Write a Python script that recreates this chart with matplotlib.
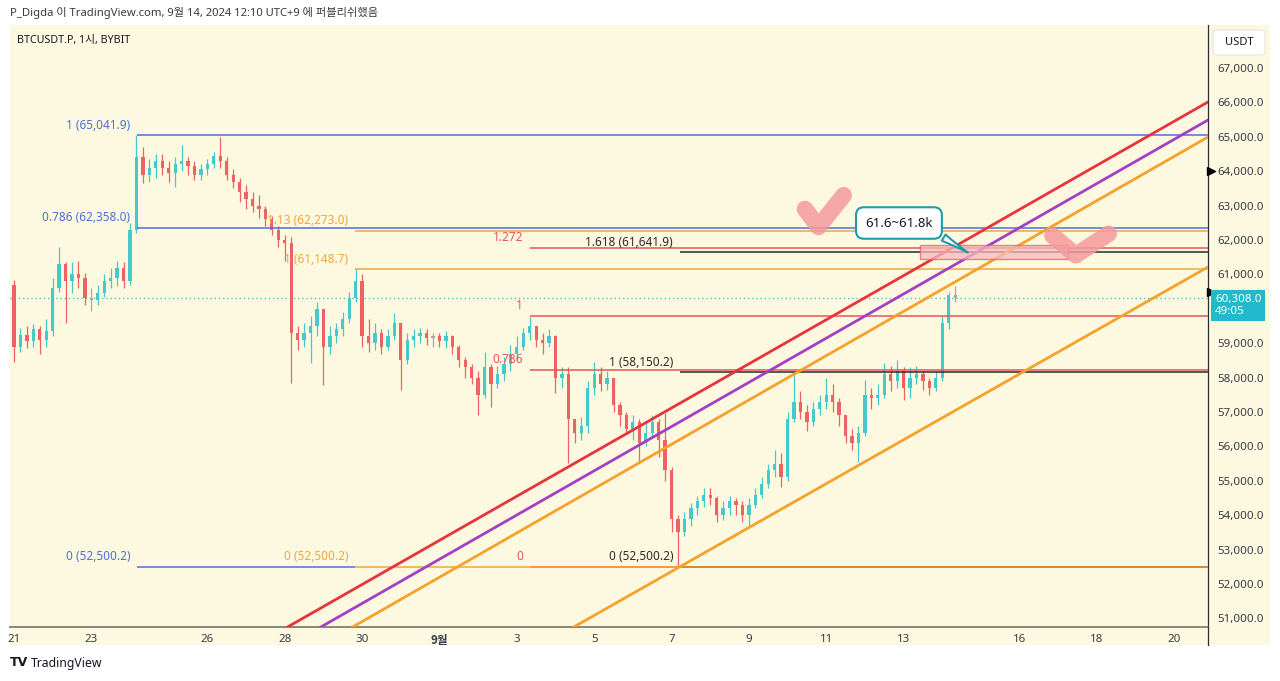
import numpy as np
import matplotlib.pyplot as plt
import matplotlib.transforms as mtransforms
from matplotlib.patches import Rectangle, FancyBboxPatch
from matplotlib.lines import Line2D

plt.rcParams['font.family'] = ['Noto Sans', 'Noto Sans CJK KR', 'DejaVu Sans']

# ---- 데이터 (BTCUSDT.P, 4시간 단위로 읽은 값, 8/21 00:00 부터) ----
candle_step = 4 / 24          # 일 단위
first_open = 60700
closes = [
    58900, 59250, 59050, 59400, 59100, 59350,
    60600, 61300, 60800, 61000, 60900, 60300,
    60250, 60450, 60800, 60900, 61200, 60800,
    62300, 64400, 63900, 64100, 64300, 64100,
    63950, 64200, 64300, 64150, 63900, 64050,
    64200, 64450, 64300, 63900, 63700, 63400,
    63200, 63000, 62900, 62600, 62300, 62000,
    61900, 59300, 59100, 59300, 59500, 60000,
    58900, 59200, 59400, 59700, 60300, 60800,
    59200, 59000, 59300, 58900, 59200, 59600,
    58500, 59100, 59200, 59300, 59150, 59200,
    59050, 59200, 58900, 58500, 58300, 58000,
    57500, 58300, 57800, 58100, 58400, 58700,
    58900, 59300, 59500, 59100, 59000, 59200,
    58000, 58100, 56800, 56400, 56600, 57700,
    58100, 57800, 58000, 57200, 56900, 56500,
    56700, 56100, 56400, 56700, 56200, 55300,
    53900, 53500, 53900, 54200, 54400, 54600,
    54500, 54000, 54200, 54400, 54300, 54000,
    54300, 54600, 54900, 55300, 55500, 55100,
    56800, 57300, 57000, 56700, 57100, 57300,
    57500, 57300, 56900, 56300, 56100, 56400,
    57500, 57400, 57500, 58100, 57900, 58200,
    57700, 58000, 58100, 57900, 57700, 58000,
    59600, 60400, 60308,
]
highs = [
    60850, 59450, 59500, 59550, 59500, 59700,
    60900, 61800, 61350, 61350, 61400, 61050,
    60600, 60700, 61000, 61200, 61400, 61350,
    62500, 65041.9, 64700, 64350, 64500, 64500,
    64300, 64400, 64750, 64400, 64300, 64200,
    64350, 64550, 65000, 64400, 64050, 63800,
    63600, 63400, 63300, 63000, 62700, 62400,
    62150, 62100, 59500, 59600, 59800, 60200,
    60000, 59500, 59600, 59900, 60500, 61148.7,
    61000, 59700, 59600, 59400, 59400, 59880,
    59600, 59300, 59400, 59450, 59400, 59300,
    59300, 59350, 59250, 58950, 58600, 58400,
    58200, 58740, 58400, 58350, 58600, 58950,
    59200, 59450, 59760, 59500, 59300, 59400,
    59250, 58300, 58300, 56800, 56850, 57900,
    58450, 58300, 58200, 58000, 57300, 57000,
    56900, 56800, 56700, 56900, 56800, 56970,
    55400, 54000, 54100, 54350, 54550, 54800,
    54800, 54550, 54400, 54550, 54500, 54400,
    54500, 54800, 55100, 55500, 55900, 55800,
    57000, 58130, 57600, 57200, 57300, 57500,
    58000, 57800, 57400, 56900, 56500, 56600,
    57930, 57700, 57800, 58420, 58350, 58500,
    58300, 58300, 58350, 58200, 58000, 58200,
    59800, 60500, 60660,
]
lows = [
    58450, 58750, 58850, 58900, 58700, 58900,
    59200, 60500, 59600, 60450, 60600, 60100,
    59950, 60100, 60350, 60600, 60650, 60600,
    60700, 62200, 63650, 63700, 63800, 63900,
    63700, 63550, 64000, 63900, 63750, 63750,
    63900, 64100, 64100, 63750, 63500, 63100,
    62900, 62800, 62650, 62400, 62150, 61800,
    61400, 57840, 58800, 58900, 58420, 59200,
    57790, 58700, 59000, 59200, 59600, 60200,
    58900, 58750, 58800, 58700, 58800, 59100,
    57640, 58400, 58900, 59000, 58950, 58900,
    58900, 58850, 58700, 58300, 58000, 57800,
    56910, 57400, 57150, 57700, 57900, 58200,
    58500, 58800, 59100, 58900, 58700, 58900,
    57550, 57700, 55520, 56100, 56200, 56400,
    57500, 57600, 57650, 57000, 56600, 56350,
    56200, 55520, 56000, 56250, 55700, 55000,
    53500, 52500.2, 53400, 53700, 54000, 54250,
    54300, 53800, 53850, 54000, 54000, 53800,
    53630, 54200, 54500, 54800, 55100, 54820,
    55000, 56700, 56800, 56450, 56600, 56900,
    57100, 57000, 56600, 56100, 55900, 55550,
    56300, 57100, 57200, 57400, 57600, 57700,
    57350, 57400, 57800, 57650, 57500, 57600,
    57900, 59400, 60200,
]

# 피보나치 (비율, 가격, 시작일)
blue_ratios = [1, 0.786, 0]
blue_prices = [65041.9, 62358.0, 52500.2]
blue_start = 3.18
orange_ratios = [1.13, 1, 0]
orange_prices = [62273.0, 61148.7, 52500.2]
orange_start = 8.82
red_ratios = [1.272, 1, 0.786, 0]
red_prices = [61773.9, 59800.0, 58230.0, 52500.2]
red_start = 13.34
black_ratios = [1.618, 1, 0]
black_prices = [61641.9, 58150.2, 52500.2]
black_start = 17.22

# 추세선 (일, 가격) 두 점
trend_red = [(7.39, 50953), (30.87, 66012)]
trend_purple = [(8.25, 50953), (30.87, 65488)]
trend_orange_up = [(9.07, 50953), (30.87, 64994)]
trend_orange_low = [(14.79, 50953), (30.87, 61215)]

# 목표 구간
zone_days = (23.42, 27.25)
zone_prices = (61450, 61850)
callout_text = '61.6~61.8k'
callout_pos = (22.88, 62494)
callout_tip = (24.72, 61593)
check1 = ([20.45, 20.8, 21.45], [62900, 62380, 63300])
check2 = ([26.85, 27.45, 28.3], [62130, 61560, 62180])

date_ticks = [0, 2, 5, 7, 9, 11, 13, 15, 17, 19, 21, 23, 26, 28, 30]
date_labels = ['21', '23', '26', '28', '30', '9월', '3', '5', '7', '9', '11', '13', '16', '18', '20']
price_ticks = list(range(51000, 68000, 1000))
countdown = '49:05'

# ---- 스타일 ----
W, H = 1280, 681
CREAM = '#fdf9e1'
UP, DOWN, NEUTRAL = '#45cacc', '#ee6266', '#a8a8a8'
BLUE, ORANGE, RED, BLACK = '#4d6fd6', '#f5a53a', '#e8545c', '#2a2a2a'
TEAL = '#22b9cf'
XMIN, XMAX = -0.103, 30.87
YMIN, YMAX = 50750, 68250


def fx(px):
    return px / W


def fy(py):
    return 1 - py / H


fig = plt.figure(figsize=(W / 100, H / 100), dpi=100)
fig.patch.set_facecolor('white')
fig.patches.append(Rectangle((fx(10), fy(645)), fx(1270) - fx(10), fy(25) - fy(645),
                             transform=fig.transFigure, facecolor=CREAM,
                             edgecolor='none', zorder=-5))
ax = fig.add_axes([fx(10), fy(627), fx(1208) - fx(10), fy(25) - fy(627)])
ax.set_facecolor(CREAM)
ax.set_xlim(XMIN, XMAX)
ax.set_ylim(YMIN, YMAX)

# 캔들
c = np.array(closes, dtype=float)
o = np.array([first_open] + closes[:-1], dtype=float)
t = np.arange(len(c)) * candle_step
cols = np.where(np.abs(c - o) < 100, NEUTRAL, np.where(c >= o, UP, DOWN))
ax.vlines(t, lows, highs, colors=cols, lw=0.9, zorder=3)
ax.bar(t, np.maximum(np.abs(c - o), 40), bottom=np.minimum(o, c), width=0.085,
       color=cols, zorder=3)

# 현재가 점선
last_close = closes[-1]
ax.axhline(last_close, color='#45c4cf', lw=1, ls=(0, (1, 2)), zorder=2)


def draw_fib(ratios, prices, start, color, with_price=True, ends=None, zo=4):
    for k, (r, p) in enumerate(zip(ratios, prices)):
        end = XMAX if ends is None else ends[k]
        ax.hlines(p, start, end, colors=color, lw=1.1, zorder=zo)
        label = f'{r} ({p:,.1f})' if with_price else f'{r}'
        ax.annotate(label, (start, p), xytext=(-5, 2.5), textcoords='offset points',
                    ha='right', va='bottom', color=color, fontsize=8.5, zorder=6)


draw_fib(red_ratios, red_prices, red_start, RED, with_price=False)
draw_fib(black_ratios, black_prices, black_start, BLACK)
draw_fib(blue_ratios, blue_prices, blue_start, BLUE, ends=[XMAX, XMAX, orange_start])
draw_fib(orange_ratios, orange_prices, orange_start, ORANGE, zo=4.5)

# 추세선
for pts, col in [(trend_red, '#e8333f'), (trend_purple, '#a23fc4'),
                 (trend_orange_up, '#f5a12a'), (trend_orange_low, '#f5a12a')]:
    ax.axline(pts[0], pts[1], color=col, lw=2, zorder=5)

# 목표 구간 박스
ax.add_patch(Rectangle((zone_days[0], zone_prices[0]), zone_days[1] - zone_days[0],
                       zone_prices[1] - zone_prices[0], facecolor='#f7b8bb',
                       edgecolor='#e0606a', lw=1, alpha=0.75, zorder=5.5))

# 체크 표시
for xs, ys in (check1, check2):
    ax.plot(xs, ys, color='#f49a9c', lw=12, alpha=0.85, solid_capstyle='round',
            solid_joinstyle='round', zorder=6)

# 말풍선
ax.annotate(callout_text, xy=callout_tip, xytext=callout_pos, ha='center', va='center',
            fontsize=9.5, fontweight='bold', color='#131722', zorder=8,
            bbox=dict(boxstyle='round,pad=0.7,rounding_size=0.6', fc='white',
                      ec='#1f9bab', lw=1.5),
            arrowprops=dict(arrowstyle='wedge,tail_width=0.55,shrink_factor=0.4',
                            fc='white', ec='#1f9bab', lw=1.5, relpos=(0.93, 0.12)))

# 축 (60,000 눈금은 현재가 라벨 뒤에 가려짐)
ax.yaxis.tick_right()
ax.set_yticks(price_ticks)
ax.set_yticklabels(['' if v == 60000 else f'{v:,.1f}' for v in price_ticks])
ax.tick_params(axis='y', length=0, pad=7, labelsize=8.3, labelcolor='#363a45')
ax.set_xticks(date_ticks)
ax.set_xticklabels(date_labels)
ax.tick_params(axis='x', length=0, pad=5, labelsize=8.3, labelcolor='#363a45')
for lab in ax.get_xticklabels():
    if lab.get_text() == '9월':
        lab.set_family('Noto Sans CJK KR')
        lab.set_fontweight('bold')
for side in ['left', 'top']:
    ax.spines[side].set_visible(False)
ax.spines['right'].set_color('#2a2e39')
ax.spines['right'].set_linewidth(0.9)
ax.spines['bottom'].set_color('#7d7d74')
ax.spines['bottom'].set_linewidth(1.3)
fig.lines.append(Line2D([fx(1208), fx(1208)], [fy(627), fy(645)], transform=fig.transFigure,
                        color='#2a2e39', lw=0.9))

# 가격 라벨 / 알림 표시
trans = mtransforms.blended_transform_factory(ax.transAxes, ax.transData)
ax.annotate(f'{last_close:,.1f}\n{countdown}', xy=(1.0, last_close), xycoords=trans,
            xytext=(5, -5), textcoords='offset points', ha='left', va='center',
            fontsize=8.3, color='white', linespacing=1.15, annotation_clip=False,
            zorder=10, bbox=dict(boxstyle='square,pad=0.35', fc=TEAL, ec='none'))
ax.plot([1.0025, 1.0025], [64000, 60500], transform=trans, ls='none', marker='>',
        ms=6, color='black', clip_on=False, zorder=9)

fig.patches.append(FancyBboxPatch((fx(1213), fy(55)), fx(1265) - fx(1213), fy(30) - fy(55),
                                  boxstyle='round,pad=0,rounding_size=0.004',
                                  transform=fig.transFigure, facecolor='white',
                                  edgecolor='#e3e3e3', lw=0.8, zorder=1))
fig.text(fx(1239), fy(42.5), 'USDT', ha='center', va='center', fontsize=8, color='#131722')

# 제목 / 로고
fig.text(fx(10), fy(13), 'P_Digda 이 TradingView.com, 9월 14, 2024 12:10 UTC+9 에 퍼블리쉬했음',
         ha='left', va='center', fontsize=8.1, color='#3a3a3a')
fig.text(fx(17), fy(40), 'BTCUSDT.P, 1시, BYBIT', ha='left', va='center',
         fontsize=7.7, color='#131722')
fig.text(fx(10), fy(663), 'TV', ha='left', va='center', fontsize=9, fontweight='black',
         family='DejaVu Sans', color='#131722')
fig.text(fx(31), fy(663), 'TradingView', ha='left', va='center', fontsize=8.8,
         color='#131722')

fig.savefig('out.png', dpi=100, facecolor=fig.get_facecolor())
